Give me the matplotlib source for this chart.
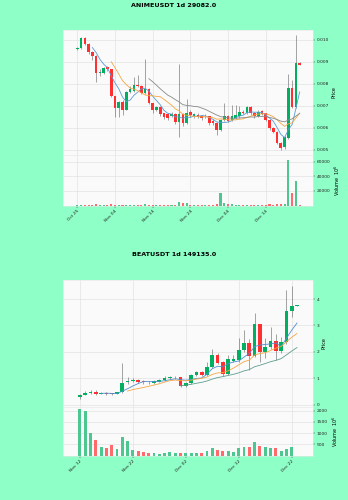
import numpy as np
import pandas as pd
import matplotlib
matplotlib.use("Agg")
import matplotlib.pyplot as plt

# --- ANIMEUSDT daily candles ---
anime_start = '2024-10-25'
anime_open = [0.00960, 0.00962, 0.01008, 0.00982, 0.00947, 0.00927, 0.00850, 0.00848, 0.00875, 0.00866,
              0.00743, 0.00689, 0.00720, 0.00682, 0.00765, 0.00770, 0.00797, 0.00790, 0.00761, 0.00776,
              0.00712, 0.00682, 0.00694, 0.00667, 0.00664, 0.00652, 0.00662, 0.00629, 0.00664, 0.00624,
              0.00674, 0.00655, 0.00660, 0.00655, 0.00652, 0.00652, 0.00633, 0.00621, 0.00591, 0.00636,
              0.00652, 0.00636, 0.00644, 0.00652, 0.00674, 0.00670, 0.00694, 0.00667, 0.00654, 0.00679,
              0.00667, 0.00636, 0.00598, 0.00583, 0.00530, 0.00515, 0.00553, 0.00780, 0.00697, 0.00897]
anime_high = [0.00968, 0.01015, 0.01012, 0.00985, 0.00950, 0.00930, 0.00868, 0.00876, 0.00880, 0.00870,
              0.00745, 0.00722, 0.00725, 0.00768, 0.00790, 0.00830, 0.00840, 0.00795, 0.00912, 0.00780,
              0.00715, 0.00700, 0.00698, 0.00670, 0.00668, 0.00672, 0.00666, 0.00889, 0.00668, 0.00730,
              0.00680, 0.00670, 0.00668, 0.00660, 0.00662, 0.00655, 0.00640, 0.00625, 0.00640, 0.00715,
              0.00660, 0.00705, 0.00705, 0.00700, 0.00680, 0.00700, 0.00698, 0.00672, 0.00680, 0.00682,
              0.00670, 0.00640, 0.00602, 0.00588, 0.00535, 0.00565, 0.00845, 0.00820, 0.01023, 0.00900]
anime_low = [0.00955, 0.00958, 0.00975, 0.00935, 0.00910, 0.00810, 0.00838, 0.00845, 0.00860, 0.00740,
             0.00651, 0.00651, 0.00660, 0.00680, 0.00760, 0.00765, 0.00785, 0.00755, 0.00755, 0.00710,
             0.00670, 0.00675, 0.00655, 0.00640, 0.00635, 0.00648, 0.00620, 0.00560, 0.00610, 0.00620,
             0.00650, 0.00645, 0.00645, 0.00638, 0.00645, 0.00615, 0.00612, 0.00568, 0.00585, 0.00630,
             0.00625, 0.00630, 0.00640, 0.00645, 0.00662, 0.00665, 0.00660, 0.00645, 0.00650, 0.00658,
             0.00630, 0.00592, 0.00575, 0.00525, 0.00500, 0.00505, 0.00550, 0.00690, 0.00690, 0.00884]
anime_close = [0.00962, 0.01008, 0.00982, 0.00947, 0.00927, 0.00848, 0.00855, 0.00872, 0.00866, 0.00743,
               0.00689, 0.00720, 0.00682, 0.00765, 0.00775, 0.00797, 0.00792, 0.00759, 0.00776, 0.00712,
               0.00682, 0.00694, 0.00664, 0.00648, 0.00644, 0.00664, 0.00629, 0.00664, 0.00621, 0.00667,
               0.00659, 0.00662, 0.00652, 0.00644, 0.00655, 0.00624, 0.00621, 0.00591, 0.00636, 0.00652,
               0.00633, 0.00652, 0.00659, 0.00674, 0.00670, 0.00694, 0.00667, 0.00652, 0.00674, 0.00664,
               0.00636, 0.00598, 0.00583, 0.00530, 0.00508, 0.00561, 0.00780, 0.00697, 0.00894, 0.00886]
anime_volume = [900, 1200, 800, 1000, 700, 1500, 600, 500, 700, 1400,
                1200, 800, 700, 1300, 900, 1100, 800, 900, 2000, 1000,
                700, 500, 600, 800, 700, 500, 900, 5500, 3200, 2800,
                1000, 600, 500, 700, 600, 1200, 900, 1500, 16800, 3000,
                1800, 1500, 1200, 1000, 800, 1300, 900, 800, 700, 900,
                1200, 1500, 1300, 1800, 2000, 2500, 63000, 17500, 33400, 600]

# --- BEATUSDT daily candles ---
beat_start = '2024-11-12'
beat_open = [0.27, 0.37, 0.43, 0.47, 0.42, 0.43, 0.43, 0.42, 0.47, 0.85,
             0.90, 0.93, 0.89, 0.87, 0.83, 0.87, 0.93, 1.00, 1.03, 1.04,
             0.72, 0.83, 1.12, 1.25, 1.12, 1.44, 1.88, 1.60, 1.16, 1.67,
             1.69, 2.07, 2.32, 1.84, 3.04, 2.00, 2.20, 2.41, 2.03, 2.36,
             3.55, 3.74]
beat_high = [0.40, 0.52, 0.55, 0.55, 0.46, 0.46, 0.45, 0.49, 1.57, 1.06,
             1.00, 0.98, 0.92, 0.90, 0.92, 0.96, 1.10, 1.08, 1.07, 1.06,
             0.86, 1.15, 1.28, 1.28, 1.60, 2.10, 1.97, 1.65, 1.88, 1.88,
             2.51, 2.83, 2.50, 3.46, 3.06, 2.51, 2.95, 2.68, 2.58, 4.34,
             4.50, 3.78]
beat_low = [0.22, 0.35, 0.40, 0.38, 0.39, 0.38, 0.38, 0.40, 0.45, 0.80,
            0.85, 0.82, 0.80, 0.78, 0.80, 0.84, 0.90, 0.96, 0.98, 0.68,
            0.68, 0.80, 1.08, 1.10, 1.08, 1.40, 1.55, 1.10, 1.12, 1.62,
            1.60, 2.00, 1.30, 1.80, 1.63, 1.75, 2.10, 1.70, 1.95, 2.30,
            3.33, 3.72]
beat_close = [0.37, 0.45, 0.47, 0.41, 0.43, 0.41, 0.40, 0.47, 0.83, 0.90,
              0.93, 0.86, 0.86, 0.85, 0.89, 0.93, 1.00, 1.04, 1.04, 0.72,
              0.83, 1.12, 1.25, 1.12, 1.44, 1.88, 1.57, 1.16, 1.72, 1.74,
              2.07, 2.32, 1.84, 3.04, 2.00, 2.20, 2.41, 2.03, 2.36, 3.55,
              3.74, 3.77]
beat_volume = [2060, 2000, 990, 700, 370, 355, 475, 300, 845, 650,
               250, 180, 135, 130, 100, 75, 100, 165, 100, 130,
               130, 130, 130, 130, 180, 330, 250, 210, 180, 150,
               355, 370, 385, 590, 430, 400, 330, 330, 180, 300,
               400, 0]

mav_periods = [5, 10, 20]

BG = '#8effc6'
UP, DOWN = '#00b060', '#fe3032'
VUP, VDOWN = '#4dc790', '#fd6b6c'
WICK = '#606060'
FS = 3.2


def style_axis(ax):
    ax.set_facecolor('#fafafa')
    ax.grid(True, color='#dddddd', lw=0.4)
    ax.set_axisbelow(True)
    ax.yaxis.tick_right()
    ax.yaxis.set_label_position('right')
    ax.tick_params(labelsize=FS, length=1.5, width=0.3, pad=1, colors='#222222')
    for s in ax.spines.values():
        s.set_color('#e6e6e6')
        s.set_linewidth(0.4)


def draw_chart(fig, price_rect, vol_rect, title, title_y, start, o, h, l, c, v,
               mav_colors, price_ticks, price_fmt, price_lim, vol_ticks, vol_lim, xlim, vol_label):
    o, h, l, c, v = map(np.array, (o, h, l, c, v))
    x = np.arange(len(c))
    dates = pd.date_range(start, periods=len(c))
    up = c >= o

    ax = fig.add_axes(price_rect)
    axv = fig.add_axes(vol_rect, sharex=ax)
    style_axis(ax)
    style_axis(axv)

    # wicks and bodies
    ax.vlines(x, l, h, color=WICK, lw=0.4, zorder=2)
    body = np.maximum(np.abs(c - o), (price_lim[1] - price_lim[0]) * 0.003)
    ax.bar(x, body, bottom=np.minimum(o, c), width=0.7,
           color=np.where(up, UP, DOWN), zorder=3)

    # moving averages
    for n, col in zip(mav_periods, mav_colors):
        ma = pd.Series(c).rolling(n).mean()
        ax.plot(x, ma, color=col, lw=0.6, zorder=4)

    ax.set_ylim(*price_lim)
    ax.set_yticks(price_ticks)
    ax.set_yticklabels([price_fmt.format(t) for t in price_ticks])
    ax.set_ylabel('Price', fontsize=FS + 0.3, labelpad=2)
    ax.tick_params(axis='x', labelbottom=False, length=0)

    axv.bar(x, v, width=0.55, color=np.where(up, VUP, VDOWN), zorder=3)
    axv.set_ylim(*vol_lim)
    axv.set_yticks(vol_ticks)
    axv.set_ylabel(vol_label, fontsize=FS + 0.3, labelpad=2)

    tick_idx = x[::10]
    axv.set_xticks(tick_idx)
    axv.set_xticklabels([dates[i].strftime('%b %d') for i in tick_idx],
                        rotation=45, ha='right', rotation_mode='anchor')
    axv.set_xlim(*xlim)

    fig.text(0.5, title_y, title, ha='center', va='center',
             fontsize=4.6, fontweight='bold')


fig = plt.figure(figsize=(3.48, 5.0), dpi=100, facecolor=BG)

draw_chart(fig, [0.181, 0.690, 0.718, 0.250], [0.181, 0.589, 0.718, 0.101],
           'ANIMEUSDT 1d 29082.0', 0.989,
           anime_start, anime_open, anime_high, anime_low, anime_close, anime_volume,
           ['#5b9bd5', '#f5a742', '#8a8a8a'],
           [0.005, 0.006, 0.007, 0.008, 0.009, 0.010], '{:.3f}', (0.00477, 0.01045),
           [20000, 40000, 60000], (0, 69600), (-3.8, 62.5), 'Volume  $10^{6}$')

draw_chart(fig, [0.181, 0.186, 0.718, 0.254], [0.181, 0.089, 0.718, 0.097],
           'BEATUSDT 1d 149135.0', 0.491,
           beat_start, beat_open, beat_high, beat_low, beat_close, beat_volume,
           ['#4f8fd0', '#f5a742', '#5e9e8e'],
           [0, 1, 2, 3, 4], '{:d}', (-0.09, 4.72),
           [500, 1000, 1500, 2000], (0, 2165), (-3.2, 44.0), 'Volume  $10^{6}$')

fig.savefig('out.png', dpi=100, facecolor=BG)
